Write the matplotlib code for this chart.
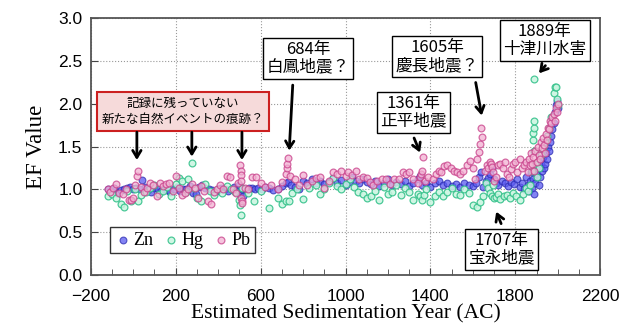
import numpy as np
import matplotlib
matplotlib.use("Agg")
import matplotlib.pyplot as plt
from matplotlib.ticker import MultipleLocator

plt.rcParams['font.family'] = ['Liberation Sans', 'Noto Sans CJK JP', 'DejaVu Sans']

# --- data (year AC, EF value) ---
zn_year = [-120, -105, -90, -75, -60, -45, -30, -15, 0, 15, 30, 40, 55, 70, 85, 100, 115, 130,
           145, 160, 175, 190, 205, 220, 235, 250, 265, 280, 295, 310, 325, 340, 355, 370, 385,
           400, 415, 430, 445, 460, 475, 490, 500, 505, 510, 515, 530, 545, 560, 575, 590,
           605, 620, 640, 660, 680, 700, 720, 730, 745, 760, 780, 800, 820, 840, 860, 880, 900,
           920, 940, 960, 980, 1000, 1015, 1030, 1050, 1065, 1080, 1100, 1120, 1140, 1160, 1180,
           1200, 1220, 1240, 1260, 1280, 1300, 1320, 1340, 1350, 1360, 1380, 1400, 1420, 1440,
           1460, 1480, 1500, 1520, 1540, 1560, 1580, 1600, 1615, 1630, 1640, 1650, 1660, 1670,
           1680, 1690, 1700, 1710, 1720, 1735, 1750, 1765, 1780, 1795, 1810, 1820, 1830, 1840,
           1850, 1860, 1865, 1870, 1875, 1880, 1885, 1890, 1895, 1900, 1905, 1910, 1915, 1920,
           1925, 1930, 1935, 1940, 1945, 1950, 1955, 1960, 1965, 1970, 1975, 1980, 1985, 1990,
           1995, 2000]
zn_ef = [1.00, 0.98, 1.02, 0.96, 0.99, 1.01, 1.02, 1.03, 1.01, 1.02, 1.00, 1.11, 1.03, 0.99, 0.97,
         1.02, 1.00, 0.98, 1.01, 0.99, 0.97, 1.00, 1.03, 0.98, 1.01, 1.00, 1.04, 0.96, 0.95, 1.03,
         1.05, 1.02, 1.00, 0.99, 0.97, 0.99, 1.02, 1.00, 0.98, 1.00, 1.03, 0.99, 1.05, 0.95, 1.00,
         0.92, 1.01, 1.02, 1.02, 1.01, 1.02,
         1.01, 1.03, 1.02, 0.99, 1.01, 1.04, 1.07, 1.09, 1.05, 1.03, 1.01, 1.10, 1.08, 1.12, 1.07,
         1.10, 1.06, 1.09, 1.13, 1.08, 1.11, 1.05, 1.09, 1.14, 1.10, 1.07, 1.12, 1.09, 1.06, 1.10,
         1.04, 1.08, 1.12, 1.05, 1.09, 1.06, 1.10, 1.04, 1.07, 1.12, 1.16, 1.05, 1.08, 1.03, 1.07,
         1.10, 1.05, 1.08, 1.04, 1.06, 1.03, 1.07, 1.05, 1.04, 1.08, 1.15, 1.20, 1.03, 1.10, 1.13,
         1.18, 1.25, 1.12, 1.07, 1.05, 1.10, 1.08, 1.04, 1.09, 1.06, 1.12, 1.03, 1.08, 1.00,
         1.15, 1.05, 0.98, 1.10, 1.20, 1.02, 1.12, 0.95, 1.08, 1.18, 1.25, 1.05, 1.15, 1.30,
         1.22, 1.38, 1.25, 1.30, 1.42, 1.35, 1.50, 1.45, 1.55, 1.62, 1.70, 1.78, 1.90, 1.98,
         2.03, 1.95]

hg_year = [-120, -100, -80, -60, -45, -30, -10, 10, 20, 35, 60, 80, 100, 120, 140, 160, 180, 200,
           215, 230, 250, 260, 276, 285, 300, 320, 340, 360, 380, 400, 420, 440, 460, 480, 500,
           505, 507, 510, 540, 570, 600, 640, 680, 700, 720, 735, 750, 770, 800, 830, 860, 880,
           900, 920, 940, 960, 980, 1000, 1020, 1040, 1060, 1080, 1100, 1120, 1140, 1160, 1180,
           1200, 1220, 1240, 1260, 1280, 1300, 1320, 1340, 1350, 1360, 1370, 1380, 1400, 1420,
           1440, 1460, 1480, 1500, 1520, 1540, 1560, 1580, 1600, 1620, 1635, 1650, 1660, 1670,
           1680, 1690, 1695, 1700, 1710, 1720, 1730, 1745, 1760, 1775, 1790, 1805, 1820, 1835,
           1850, 1860, 1870, 1878, 1882, 1884, 1886, 1888, 1889, 1890, 1895, 1900, 1910, 1920,
           1930, 1940, 1950, 1960, 1970, 1980, 1985, 1990, 1995, 2000]
hg_ef = [0.92, 0.95, 0.90, 0.83, 0.80, 0.98, 0.87, 1.00, 0.86, 0.93, 0.97, 1.02, 1.05, 0.95, 0.98,
         1.03, 0.92, 1.06, 1.13, 1.10, 0.97, 1.12, 1.31, 1.02, 0.90, 0.86, 1.06, 0.98, 0.93, 1.01,
         0.96, 1.04, 1.00, 0.97, 0.88, 0.82, 0.70, 1.02, 0.96, 0.86, 0.98, 0.78, 0.90, 0.83, 0.86,
         0.87, 0.96, 1.00, 0.89, 1.02, 1.05, 0.95, 1.00, 1.08, 1.13, 1.04, 1.00, 1.06, 1.12, 1.03,
         0.97, 0.95, 0.90, 0.92, 0.98, 0.88, 1.03, 0.95, 0.97, 1.05, 0.93, 1.02, 0.97, 0.88, 0.95,
         0.92, 0.88, 0.93, 1.00, 0.85, 0.92, 0.97, 0.92, 0.97, 1.02, 0.95, 0.93, 1.00, 0.96, 0.82,
         0.80, 0.85, 0.92, 1.08, 1.02, 0.96, 0.92, 1.05, 0.90, 0.91, 0.95, 0.89, 0.92, 0.94, 0.90,
         0.96, 0.92, 0.88, 0.95, 1.02, 0.98, 1.05, 1.22, 1.58, 1.66, 1.72, 1.80, 2.29, 1.45, 1.30,
         1.15, 1.25, 1.40, 1.48, 1.55, 1.62, 1.72, 1.85, 2.12, 2.20, 2.20, 2.05, 1.98]

pb_year = [-120, -110, -95, -80, -65, -50, -35, -20, -10, 0, 10, 17, 22, 35, 50, 65, 80, 95, 110,
           125, 140, 155, 170, 185, 200, 215, 230, 245, 260, 275, 290, 305, 320, 335, 350, 365,
           380, 395, 410, 425, 440, 455, 470, 485, 495, 505, 506, 507, 508, 509, 510, 511, 525,
           540, 560, 580, 600, 620, 650, 680, 700, 720, 724, 726, 728, 740, 760, 780, 800, 820,
           840, 860, 880, 900, 920, 940, 960, 980, 1000, 1010, 1030, 1050, 1065, 1080, 1100,
           1115, 1130, 1150, 1170, 1190, 1210, 1230, 1250, 1270, 1285, 1300, 1320, 1340, 1350,
           1355, 1360, 1365, 1375, 1390, 1410, 1425, 1440, 1450, 1465, 1480, 1495, 1510, 1525,
           1540, 1555, 1570, 1585, 1600, 1610, 1620, 1628, 1632, 1636, 1645, 1655, 1665, 1670,
           1680, 1685, 1690, 1695, 1700, 1710, 1720, 1730, 1740, 1750, 1760, 1770, 1780, 1790,
           1800, 1810, 1820, 1830, 1840, 1850, 1860, 1865, 1870, 1875, 1880, 1885, 1890, 1895,
           1900, 1905, 1910, 1915, 1920, 1925, 1930, 1935, 1940, 1945, 1950, 1955, 1960, 1965,
           1970, 1975, 1980, 1985, 1990, 1995, 2000]
pb_ef = [1.00, 0.97, 1.02, 1.06, 0.96, 0.95, 1.00, 0.88, 0.88, 0.90, 1.05, 1.16, 1.22, 1.03, 0.97,
         1.02, 1.07, 1.05, 0.92, 1.07, 1.04, 1.06, 1.08, 0.98, 1.16, 1.02, 0.94, 0.96, 1.00, 1.06,
         1.02, 0.90, 1.04, 0.98, 0.86, 0.83, 0.97, 1.00, 1.05, 1.00, 1.16, 1.14, 1.00, 0.96, 1.08,
         1.28, 1.22, 1.17, 1.10, 0.90, 0.87, 0.84, 1.02, 1.00, 1.14, 1.15, 1.07, 1.03, 1.05, 1.00,
         1.09, 1.18, 1.25, 1.30, 1.37, 1.16, 1.12, 1.05, 1.17, 1.05, 1.10, 1.13, 1.14, 1.02, 1.10,
         1.20, 1.18, 1.22, 1.16, 1.20, 1.17, 1.22, 1.12, 1.15, 1.13, 1.09, 1.05, 1.10, 1.12, 1.12,
         1.06, 1.12, 1.12, 1.20, 1.18, 1.20, 1.12, 1.08, 1.14, 1.18, 1.22, 1.38, 1.10, 1.15, 1.12,
         1.18, 1.22, 1.20, 1.27, 1.28, 1.25, 1.22, 1.20, 1.18, 1.22, 1.28, 1.33, 1.25, 1.12, 1.35,
         1.44, 1.53, 1.72, 1.61, 1.22, 1.28, 1.25, 1.32, 1.30, 1.26, 1.20, 1.10, 1.15, 1.28, 1.30,
         1.25, 1.32, 1.18, 1.15, 1.24, 1.30, 1.32, 1.20, 1.35, 1.25, 1.28, 1.32, 1.20, 1.35, 1.28,
         1.42, 1.30, 1.38, 1.22, 1.45, 1.32, 1.50, 1.40, 1.35, 1.55, 1.48, 1.60, 1.52, 1.42, 1.65,
         1.58, 1.72, 1.70, 1.80, 1.78, 1.85, 1.88, 1.80, 1.95, 1.90, 2.00]

x_ticks = [-200, 200, 600, 1000, 1400, 1800, 2200]

# callouts: text, box centre (year, EF), arrows [(from), (to)]
callouts = [
    ("684年\n白鳳地震？", (823, 2.53), [((752, 2.25), (734, 1.42))]),
    ("1605年\n慶長地震？", (1431, 2.55), [((1611, 2.28), (1644, 1.83))]),
    ("1361年\n正平地震", (1321, 1.90), [((1318, 1.63), (1356, 1.40))]),
    ("1889年\n十津川水害", (1938, 2.74), [((1950, 2.47), (1903, 2.33))]),
    ("1707年\n宝永地震", (1736, 0.30), [((1738, 0.57), (1705, 0.77))]),
]
red_text = "記録に残っていない\n新たな自然イベントの痕跡？"
red_pos = (234, 1.91)
red_arrows = [((17, 1.70), (17, 1.31)), ((276, 1.70), (276, 1.35)), ((512, 1.70), (512, 1.31))]

fig = plt.figure(figsize=(6.22, 3.29), dpi=100)
ax = fig.add_axes([0.146, 0.164, 0.819, 0.781])

ax.scatter(zn_year, zn_ef, s=24, facecolor='#5a5af0', edgecolor='#2a2ab0', lw=0.8,
           alpha=0.75, label='Zn', zorder=3)
ax.scatter(hg_year, hg_ef, s=24, facecolor='#c8f5e0', edgecolor='#30c088', lw=0.9,
           alpha=0.85, label='Hg', zorder=3)
ax.scatter(pb_year, pb_ef, s=24, facecolor='#f2b0d2', edgecolor='#c8408a', lw=0.9,
           alpha=0.75, label='Pb', zorder=3)

ax.set_xlim(-200, 2200)
ax.set_ylim(0, 3.0)
ax.set_xticks(x_ticks)
ax.xaxis.set_minor_locator(MultipleLocator(100))
ax.set_yticks(np.arange(0, 3.01, 0.5))
ax.set_yticklabels([f"{v:.1f}" for v in np.arange(0, 3.01, 0.5)])
ax.tick_params(which='both', direction='in', labelsize=12.5, color='#444444')
ax.tick_params(which='major', length=5)
ax.tick_params(which='minor', length=4)
ax.tick_params(axis='x', pad=10)
ax.tick_params(axis='y', pad=6)
ax.grid(True, which='major', linestyle=':', color='#999999', lw=0.8)
for s in ax.spines.values():
    s.set_color('#555555')
    s.set_linewidth(1.3)

ax.set_xlabel("Estimated Sedimentation Year (AC)", family='Liberation Serif', fontsize=15.5,
              labelpad=0)
ax.set_ylabel("EF Value", family='Liberation Serif', fontsize=16.5, labelpad=8)

leg = ax.legend(loc='lower left', bbox_to_anchor=(0.02, 0.05), ncol=3, handletextpad=0.15,
                columnspacing=0.5, borderpad=0.25, handlelength=0.9, fancybox=False,
                framealpha=1, edgecolor='#333333', prop={'family': 'Liberation Serif', 'size': 13})
leg.get_frame().set_linewidth(1.0)

cjk = ['Noto Sans CJK JP', 'DejaVu Sans']
arrow_kw = dict(arrowstyle='->,head_length=0.5,head_width=0.3', color='black', lw=2)

for txt, pos, arrows in callouts:
    ax.text(pos[0], pos[1], txt, ha='center', va='center', fontsize=12, family=cjk,
            linespacing=1.05, zorder=5,
            bbox=dict(boxstyle='square,pad=0.2', fc='white', ec='black', lw=1.0))
    for a, b in arrows:
        ax.annotate('', xy=b, xytext=a, arrowprops=arrow_kw, zorder=5)

ax.text(red_pos[0], red_pos[1], red_text, ha='center', va='center', fontsize=9, family=cjk,
        linespacing=1.3, zorder=5,
        bbox=dict(boxstyle='square,pad=0.4', fc='#f6dada', ec='#cc2020', lw=1.5))
for a, b in red_arrows:
    ax.annotate('', xy=b, xytext=a, arrowprops=arrow_kw, zorder=5)

fig.savefig("out.png", dpi=100)
